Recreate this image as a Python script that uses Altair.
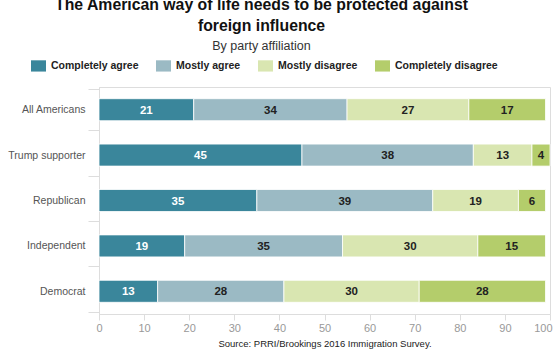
import altair as alt
import pandas as pd

groups = ["All Americans", "Trump supporter", "Republican", "Independent", "Democrat"]
responses = ["Completely agree", "Mostly agree", "Mostly disagree", "Completely disagree"]
completely_agree = [21, 45, 35, 19, 13]
mostly_agree = [34, 38, 39, 35, 28]
mostly_disagree = [27, 13, 19, 30, 30]
completely_disagree = [17, 4, 6, 15, 28]
colors = ["#3a869b", "#9bbac4", "#d9e6b1", "#b4cd6b"]
x_ticks = [0, 10, 20, 30, 40, 50, 60, 70, 80, 90, 100]

series = [completely_agree, mostly_agree, mostly_disagree, completely_disagree]
rows = []
for ri, (resp, vals) in enumerate(zip(responses, series)):
    for g, v in zip(groups, vals):
        rows.append({"group": g, "response": resp, "order": ri, "value": v})
df = pd.DataFrame(rows)

FONT = "Liberation Sans"

base = alt.Chart(df).transform_stack(
    stack="value", groupby=["group"], as_=["x0", "x1"],
    sort=[alt.SortField("order", order="ascending")]
).transform_calculate(mid="(datum.x0 + datum.x1) / 2")

y_enc = alt.Y("group:N", sort=groups, title=None,
              axis=alt.Axis(domainColor="#dddddd", tickColor="#dddddd", tickSize=11,
                            tickBand="extent", labelPadding=3, labelColor="#555555",
                            labelFontSize=10.5, labelFont=FONT))

bars = base.mark_bar(size=22, stroke="white", strokeWidth=0.8).encode(
    y=y_enc,
    x=alt.X("x0:Q", scale=alt.Scale(domain=[0, 100], nice=False),
            axis=alt.Axis(values=x_ticks, grid=False, domainColor="#dddddd",
                          tickColor="#dddddd", tickSize=6, labelColor="#999999",
                          labelFontSize=11, labelFont=FONT, labelPadding=2,
                          labelAlign=alt.expr("datum.value == 100 ? 'right' : 'center'"),
                          labelOffset=alt.expr("datum.value == 100 ? 2 : 0"),
                          title="Source: PRRI/Brookings 2016 Immigration Survey.",
                          titleFontSize=9.5, titleFontWeight="normal", titleColor="#222222",
                          titleFont=FONT, titlePadding=5)),
    x2="x1:Q",
    color=alt.Color("response:N", sort=responses,
                    scale=alt.Scale(domain=responses, range=colors),
                    legend=alt.Legend(orient="none", legendX=-68, legendY=-29,
                                      direction="horizontal", columns=4, title=None,
                                      symbolType="M-1,-0.75H1V0.75H-1Z", symbolSize=225,
                                      symbolStrokeWidth=0, symbolOpacity=1,
                                      labelFontSize=10.5, labelFontWeight="bold",
                                      labelColor="#222222", labelFont=FONT,
                                      columnPadding=17, labelOffset=5)),
)

labels = base.mark_text(fontWeight="bold", fontSize=11.5, font=FONT, baseline="middle", dy=1).encode(
    y=alt.Y("group:N", sort=groups),
    x="mid:Q",
    text="value:Q",
    color=alt.condition(alt.datum.response == "Completely agree",
                        alt.value("white"), alt.value("#222222")),
)

chart = alt.layer(bars, labels).properties(
    width=451, height=227,
    padding={"left": 99, "top": 87, "right": 10, "bottom": 36},
    autosize=alt.AutoSizeParams(type="none"),
    title=alt.TitleParams(
        text=["The American way of life needs to be protected against", "foreign influence"],
        subtitle="By party affiliation",
        font=FONT, fontSize=15.8, fontWeight="bold", color="#111111", lineHeight=21,
        subtitleFont=FONT, subtitleFontSize=12.5, subtitleColor="#333333", subtitlePadding=6,
        anchor="middle", dx=-63, offset=4,
    ),
).configure_view(stroke=None).configure(font=FONT)

chart.save("out.html", embed_options={"renderer": "svg", "actions": False})
